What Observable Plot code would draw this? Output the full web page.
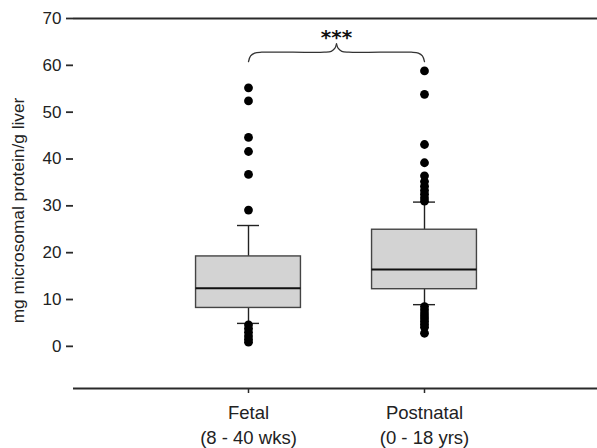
<!DOCTYPE html>
<html>
<head>
<meta charset="utf-8">
<script src="https://cdn.jsdelivr.net/npm/d3@7"></script>
<script src="https://cdn.jsdelivr.net/npm/@observablehq/plot@0.6"></script>
<style>
  html, body { margin: 0; padding: 0; background: #fff; }
</style>
</head>
<body>
<div id="chart"></div>
<script>
// ---- data ----
const categories = ["Fetal", "Postnatal"];
const categoryLabels = ["Fetal\n(8 - 40 wks)", "Postnatal\n(0 - 18 yrs)"];
const q1 = [8.2, 12.2];
const median = [12.4, 16.4];
const q3 = [19.2, 24.9];
const whiskerLow = [4.9, 8.9];
const whiskerHigh = [25.8, 30.8];
const outliersFetal = [55.2, 52.4, 44.6, 41.6, 36.7, 29.1, 4.6, 3.8, 3.0, 2.2, 1.5, 0.9];
const outliersPostnatal = [58.8, 53.8, 43.1, 39.2, 36.4, 35.2, 34.2, 33.3, 32.5, 31.7, 31.0,
                           8.5, 7.8, 7.1, 6.5, 5.9, 5.3, 4.7, 4.1, 2.8];
const yTicks = [0, 10, 20, 30, 40, 50, 60, 70];
const yLabel = "mg microsomal protein/g liver";
const significance = "***";

// ---- tables built from the arrays ----
const boxes = categories.map((c, i) => ({
  pos: i + 1, q1: q1[i], median: median[i], q3: q3[i],
  lo: whiskerLow[i], hi: whiskerHigh[i]
}));
const outliers = [
  ...outliersFetal.map(v => ({pos: 1, v})),
  ...outliersPostnatal.map(v => ({pos: 2, v}))
];

// bracket (annotation) between the two groups
const bracketHalf = [[0, 60.8], [0.012, 62.0], [0.035, 62.6], [0.075, 62.8], [0.43, 62.8], [0.47, 63.0], [0.49, 63.6], [0.5, 64.6]];
const bracket = [
  ...bracketHalf.map(([dx, y]) => ({x: 1 + dx, y, side: "L"})),
  ...bracketHalf.map(([dx, y]) => ({x: 2 - dx, y, side: "R"}))
];

const halfBox = 0.298;   // half box width in x units
const halfCap = 0.0625;  // half whisker-cap width
const dark = "#222";

const chart = Plot.plot({
  width: 597,
  height: 448,
  marginLeft: 73,
  marginRight: 0,
  marginTop: 18,
  marginBottom: 60,
  style: {fontFamily: "'Liberation Sans', Arial, sans-serif", fontSize: "17px", color: dark, background: "#fff"},
  x: {type: "linear", domain: [1, 2], range: [248, 424]},
  y: {domain: [-9, 70]},
  marks: [
    Plot.ruleY([70], {stroke: "#2a2a2a", strokeWidth: 1.8}),
    Plot.ruleY([-9], {stroke: "#2a2a2a", strokeWidth: 1.8}),
    Plot.axisY({ticks: yTicks, tickSize: 7, tickPadding: 5, fontSize: 17, label: null, line: true, stroke: "#2a2a2a", strokeWidth: 1.8}),
    Plot.axisX({ticks: [1, 2], tickFormat: d => categoryLabels[d - 1], tickSize: 5, tickPadding: 8, fontSize: 18.5, lineHeight: 1.35, label: null, stroke: "#2a2a2a", strokeWidth: 1.5}),
    Plot.text([yLabel], {frameAnchor: "left", textAnchor: "middle", rotate: -90, dx: -55, dy: 7, fontSize: 17.3, fill: dark}),
    // whiskers
    Plot.ruleX(boxes, {x: "pos", y1: "q3", y2: "hi", stroke: dark, strokeWidth: 1.4}),
    Plot.ruleX(boxes, {x: "pos", y1: "lo", y2: "q1", stroke: dark, strokeWidth: 1.4}),
    Plot.ruleY(boxes, {y: "hi", x1: d => d.pos - halfCap, x2: d => d.pos + halfCap, stroke: dark, strokeWidth: 1.4}),
    Plot.ruleY(boxes, {y: "lo", x1: d => d.pos - halfCap, x2: d => d.pos + halfCap, stroke: dark, strokeWidth: 1.4}),
    // boxes
    Plot.rect(boxes, {x1: d => d.pos - halfBox, x2: d => d.pos + halfBox, y1: "q1", y2: "q3", fill: "#d3d3d3", stroke: "#444", strokeWidth: 1.4}),
    Plot.ruleY(boxes, {y: "median", x1: d => d.pos - halfBox, x2: d => d.pos + halfBox, stroke: "#111", strokeWidth: 2}),
    // outliers
    Plot.dot(outliers, {x: "pos", y: "v", r: 4.4, fill: "#000", stroke: "none"}),
    // significance bracket
    Plot.line(bracket, {x: "x", y: "y", z: "side", curve: "catmull-rom", stroke: "#333", strokeWidth: 1.3}),
    Plot.text([significance], {x: [1.5], y: [66.0], fontFamily: "'DejaVu Sans', sans-serif", fontSize: 20, fontWeight: "bold", fill: "#111"})
  ]
});
document.getElementById("chart").appendChild(chart);
</script>
</body>
</html>
